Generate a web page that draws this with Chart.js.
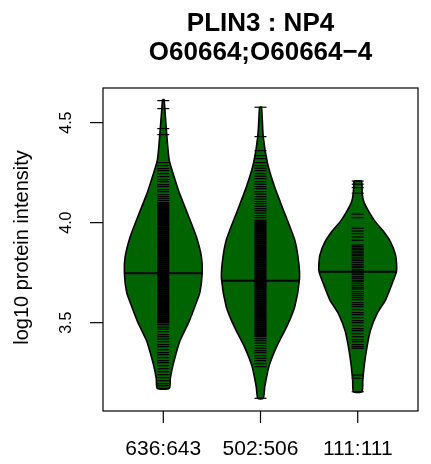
<!DOCTYPE html>
<html>
<head>
<meta charset="utf-8">
<script src="https://cdn.jsdelivr.net/npm/chart.js@4.4.1/dist/chart.umd.min.js"></script>
<style>
  html, body { margin: 0; padding: 0; background: #fff; }
  canvas { display: block; }
</style>
</head>
<body>
<canvas id="chart" width="431" height="464"></canvas>
<script>
const titleLines = ['PLIN3 : NP4', 'O60664;O60664\u22124'];
const yLabel = 'log10 protein intensity';
const categories = ['636:643', '502:506', '111:111'];
const yTicks = [3.5, 4.0, 4.5];
const medians = [3.747, 3.71, 3.755];

// bean outlines: levels (top to bottom) and relative density
const levels1 = [4.615, 4.50, 4.39, 4.31, 4.21, 4.14, 4.047, 3.93, 3.83, 3.747, 3.65, 3.58, 3.50, 3.41, 3.34, 3.28, 3.22, 3.172];
const density1 = [0.02, 0.065, 0.11, 0.155, 0.31, 0.43, 0.62, 0.85, 0.98, 1.0, 0.94, 0.81, 0.65, 0.43, 0.32, 0.24, 0.18, 0.155];
const levels2 = [4.577, 4.43, 4.297, 4.18, 4.047, 3.913, 3.797, 3.713, 3.58, 3.48, 3.38, 3.28, 3.18, 3.122];
const density2 = [0.026, 0.07, 0.18, 0.36, 0.62, 0.88, 0.985, 1.0, 0.88, 0.675, 0.415, 0.215, 0.11, 0.07];
const levels3 = [4.208, 4.147, 4.105, 4.055, 4.005, 3.955, 3.905, 3.84, 3.79, 3.755, 3.713, 3.613, 3.547, 3.463, 3.38, 3.297, 3.213, 3.155];
const density3 = [0.095, 0.115, 0.155, 0.285, 0.45, 0.67, 0.84, 0.97, 1.0, 0.995, 0.92, 0.715, 0.5, 0.33, 0.24, 0.175, 0.13, 0.11];

// bean lines, one per observation (the solid parts as dense runs)
const lines1 = [4.61, 4.57, 4.47, 4.44, 4.30, 4.285, 4.27, 4.26, 4.245, 4.23, 4.215, 4.205, 4.19, 4.18, 4.165, 4.155, 4.14, 4.13, 4.12, 4.11, 4.10,
  3.49, 3.478, 3.468, 3.455, 3.44, 3.43, 3.418, 3.405, 3.39, 3.38, 3.365, 3.35, 3.34, 3.325, 3.31, 3.30, 3.285, 3.27, 3.255, 3.24, 3.225, 3.21, 3.195, 3.185, 3.172];
const dense1 = [4.092, 4.083, 4.072, 4.063, 4.052, 4.044, 4.033, 4.024, 4.013, 4.004, 3.994, 3.985, 3.974, 3.965, 3.955, 3.946, 3.936, 3.926, 3.917, 3.907,
  3.897, 3.888, 3.878, 3.868, 3.859, 3.849, 3.839, 3.83, 3.82, 3.81, 3.801, 3.791, 3.781, 3.772, 3.762, 3.752, 3.743, 3.733, 3.723, 3.714,
  3.704, 3.694, 3.685, 3.675, 3.665, 3.656, 3.646, 3.636, 3.627, 3.617, 3.607, 3.598, 3.588, 3.578, 3.569, 3.559, 3.549, 3.54, 3.53, 3.52, 3.511, 3.502];
const lines2 = [4.577, 4.43, 4.36, 4.335, 4.32, 4.30, 4.285, 4.272, 4.26, 4.245, 4.232, 4.22, 4.205, 4.192, 4.18, 4.17, 4.155, 4.142, 4.13, 4.118, 4.105,
  4.095, 4.082, 4.07, 4.06, 4.048, 4.035, 4.025, 4.012, 3.42, 3.41, 3.398, 3.385, 3.372, 3.36, 3.35, 3.335, 3.322, 3.31, 3.295, 3.28, 3.122];
const dense2 = [4.003, 3.993, 3.984, 3.974, 3.964, 3.955, 3.945, 3.935, 3.926, 3.916, 3.906, 3.897, 3.887, 3.877, 3.868, 3.858, 3.848, 3.839, 3.829, 3.819,
  3.81, 3.8, 3.79, 3.781, 3.771, 3.761, 3.752, 3.742, 3.732, 3.723, 3.713, 3.703, 3.694, 3.684, 3.674, 3.665, 3.655, 3.645, 3.636, 3.626,
  3.616, 3.607, 3.597, 3.587, 3.578, 3.568, 3.558, 3.549, 3.539, 3.529, 3.52, 3.51, 3.5, 3.491, 3.481, 3.471, 3.462, 3.452, 3.442, 3.433];
const lines3 = [4.208, 4.192, 4.175, 4.147, 4.042, 4.025, 3.972, 3.958, 3.945, 3.928, 3.912, 3.888, 3.88, 3.872, 3.865, 3.857, 3.85, 3.842, 3.835, 3.826,
  3.818, 3.81, 3.8, 3.79, 3.782, 3.775, 3.765, 3.758, 3.748, 3.74, 3.73, 3.722, 3.712, 3.705, 3.695, 3.685, 3.675, 3.668, 3.655, 3.645,
  3.635, 3.625, 3.615, 3.6, 3.59, 3.58, 3.565, 3.55, 3.54, 3.525, 3.51, 3.5, 3.485, 3.47, 3.46, 3.445, 3.43, 3.415, 3.405, 3.39,
  3.38, 3.372, 3.238, 3.222, 3.155];
const dense3 = [];

const FONT = '"Liberation Sans", Arial, Helvetica, sans-serif';
Chart.defaults.font.family = FONT;

const beanWidth = 0.4;
const beanFill = '#006400';

const beanOutline = (pos, levels, density) => {
    const left = levels.map((y, i) => ({ x: pos - density[i] * beanWidth, y: y }));
    const right = levels.map((y, i) => ({ x: pos + density[i] * beanWidth, y: y })).reverse();
    return left.concat(right, [left[0]]);
};

const densityAt = (levels, density, v) => {
    for (let i = 0; i < levels.length - 1; i++) {
        if (v <= levels[i] && v >= levels[i + 1]) {
            const t = (levels[i] - v) / (levels[i] - levels[i + 1]);
            return density[i] + t * (density[i + 1] - density[i]);
        }
    }
    return 0;
};

const beans = [
    [levels1, density1, lines1, dense1],
    [levels2, density2, lines2, dense2],
    [levels3, density3, lines3, dense3],
];

const datasets = [];
const medianData = [];
beans.forEach(([lv, dn, ln, ds], i) => {
    const pos = i + 1;
    datasets.push({
        data: ln.map(v => ({ x: pos, y: v })),
        showLine: false,
        pointStyle: 'line',
        pointRadius: 6,
        pointBorderWidth: 1.2,
        pointBorderColor: '#000',
        order: 0,
    });
    datasets.push({
        data: ds.map(v => ({ x: pos, y: v })),
        showLine: false,
        pointStyle: 'line',
        pointRadius: 6,
        pointBorderWidth: 2.3,
        pointBorderColor: '#000',
        order: 0,
    });
    datasets.push({
        data: beanOutline(pos, lv, dn),
        showLine: true,
        fill: 'shape',
        backgroundColor: beanFill,
        borderColor: '#000',
        borderWidth: 1.6,
        pointRadius: 0,
        tension: 0.2,
        order: 2,
    });
    const hw = densityAt(lv, dn, medians[i]) * beanWidth;
    medianData.push({ x: pos - hw, y: medians[i] }, { x: pos + hw, y: medians[i] }, { x: pos, y: null });
});
datasets.push({
    data: medianData,
    showLine: true,
    borderColor: '#000',
    borderWidth: 2,
    pointRadius: 0,
    spanGaps: false,
    order: 1,
});

const rAxes = {
    id: 'rAxes',
    afterDraw(chart) {
        const { ctx, chartArea: a, scales: { x, y } } = chart;
        ctx.save();
        ctx.strokeStyle = '#000';
        ctx.fillStyle = '#000';
        ctx.lineWidth = 1.2;
        ctx.strokeRect(a.left, a.top, a.right - a.left, a.bottom - a.top);

        ctx.textAlign = 'center';
        ctx.textBaseline = 'middle';
        ctx.font = '16px ' + FONT;
        yTicks.forEach(v => {
            const py = y.getPixelForValue(v);
            ctx.beginPath();
            ctx.moveTo(a.left - 13, py);
            ctx.lineTo(a.left, py);
            ctx.stroke();
            ctx.save();
            ctx.translate(a.left - 36.5, py);
            ctx.rotate(-Math.PI / 2);
            ctx.fillText(v.toFixed(1), 0, 0);
            ctx.restore();
        });

        ctx.font = '21px ' + FONT;
        categories.forEach((c, i) => {
            const px = x.getPixelForValue(i + 1);
            ctx.beginPath();
            ctx.moveTo(px, a.bottom);
            ctx.lineTo(px, a.bottom + 12);
            ctx.stroke();
            ctx.fillText(c, px, a.bottom + 38.7);
        });

        ctx.font = '20px ' + FONT;
        ctx.save();
        ctx.translate(22, (a.top + a.bottom) / 2 - 2);
        ctx.rotate(-Math.PI / 2);
        ctx.fillText(yLabel, 0, 0);
        ctx.restore();
        ctx.restore();
    }
};

new Chart(document.getElementById('chart'), {
    type: 'scatter',
    data: { datasets: datasets },
    options: {
        responsive: false,
        animation: false,
        events: [],
        devicePixelRatio: 1,
        layout: { padding: { left: 103, right: 13, top: 0, bottom: 53 } },
        scales: {
            x: { type: 'linear', min: 0.38, max: 3.62, display: false },
            y: { type: 'linear', min: 3.0585, max: 4.673, display: false },
        },
        plugins: {
            legend: { display: false },
            tooltip: { enabled: false },
            title: {
                display: true,
                fullSize: false,
                text: titleLines,
                color: '#000',
                font: { size: 26, weight: 'bold', lineHeight: 1.123 },
                padding: { top: 9, bottom: 20.6 },
            },
        },
    },
    plugins: [rAxes],
});
</script>
</body>
</html>
